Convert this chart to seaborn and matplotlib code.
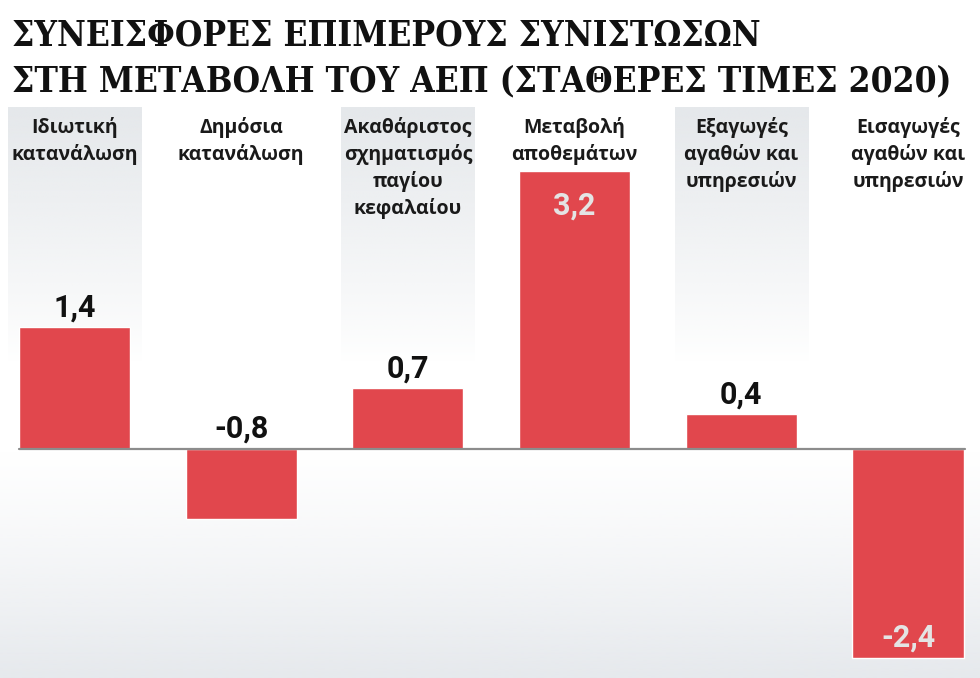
import numpy as np
import pandas as pd
import matplotlib
matplotlib.use("Agg")
import matplotlib.pyplot as plt
import seaborn as sns

# ---- data ----
categories = ["Ιδιωτική\nκατανάλωση", "Δημόσια\nκατανάλωση",
              "Ακαθάριστος\nσχηματισμός\nπαγίου\nκεφαλαίου",
              "Μεταβολή\nαποθεμάτων", "Εξαγωγές\nαγαθών και\nυπηρεσιών",
              "Εισαγωγές\nαγαθών και\nυπηρεσιών"]
values = [1.4, -0.8, 0.7, 3.2, 0.4, -2.4]
value_labels = ["1,4", "-0,8", "0,7", "3,2", "0,4", "-2,4"]
label_inside = [False, False, False, True, False, True]
shaded_columns = [0, 2, 4]
title_lines = ["ΣΥΝΕΙΣΦΟΡΕΣ ΕΠΙΜΕΡΟΥΣ ΣΥΝΙΣΤΩΣΩΝ",
               "ΣΤΗ ΜΕΤΑΒΟΛΗ ΤΟΥ ΑΕΠ (ΣΤΑΘΕΡΕΣ ΤΙΜΕΣ 2020)"]

sns.set_theme(style="white")
plt.rcParams["font.family"] = ["Open Sans", "DejaVu Sans"]

W, H = 980, 678
fig = plt.figure(figsize=(W / 100, H / 100), dpi=100)
ax = fig.add_axes([0, 0, 1, 1])

BAR = "#E1474D"
PX_X = 166.7   # px per category
X0 = 74.5      # px of first category centre
PX_Y = 87.0    # px per unit
Y0 = 449.0     # px of baseline

xlim = (-X0 / PX_X, (W - X0) / PX_X)
ylim = (-(H - Y0) / PX_Y, Y0 / PX_Y)

def ydat(py):
    return (Y0 - py) / PX_Y

# background shaded column strips (gradient fading downwards)
strip_top = ydat(107)
n = 256
yy = np.linspace(strip_top, 0, n)
alpha = np.clip((yy - 1.0) / (strip_top - 1.0), 0, 1) ** 0.9
strip_rgba = np.zeros((n, 1, 4))
strip_rgba[..., 0] = 229 / 255
strip_rgba[..., 1] = 232 / 255
strip_rgba[..., 2] = 235 / 255
strip_rgba[:, 0, 3] = alpha
for i in shaded_columns:
    ax.imshow(strip_rgba, extent=[i - 0.4, i + 0.4, 0, strip_top],
              aspect="auto", origin="upper", zorder=0, interpolation="bilinear")

# bottom gradient below baseline
yy2 = np.linspace(0, ylim[0], n)
a2 = np.clip(yy2 / ylim[0], 0, 1) ** 1.2
bot_rgba = np.zeros((n, 1, 4))
bot_rgba[..., 0] = 230 / 255
bot_rgba[..., 1] = 233 / 255
bot_rgba[..., 2] = 237 / 255
bot_rgba[:, 0, 3] = a2
ax.imshow(bot_rgba, extent=[xlim[0], xlim[1], ylim[0], 0],
          aspect="auto", origin="upper", zorder=0, interpolation="bilinear")

df = pd.DataFrame({"cat": categories, "val": values})
sns.barplot(data=df, x="cat", y="val", color=BAR, saturation=1,
            width=0.667, ax=ax, zorder=2)

ax.axhline(0, xmin=19 / W, xmax=965 / W, color="#8c8c8c", lw=1.6, zorder=3)

ax.set_xlim(*xlim)
ax.set_ylim(*ylim)
ax.axis("off")

# category labels
for i, lab in enumerate(categories):
    for k, line in enumerate(lab.split("\n")):
        ax.text(i, ydat(133 + 27 * k), line, ha="center", va="baseline",
                fontsize=14, fontweight="bold", color="#1a1a1a", zorder=4)

# value labels
vfont = dict(fontsize=22, fontweight="bold", family=["Roboto", "DejaVu Sans"], zorder=4)
for i, (v, s, ins) in enumerate(zip(values, value_labels, label_inside)):
    if ins:
        if v > 0:
            ax.annotate(s, (i, v), xytext=(0, -20 * 0.72), textcoords="offset points",
                        ha="center", va="top", color="#e4e4e4", **vfont)
        else:
            ax.annotate(s, (i, v), xytext=(0, 11 * 0.72), textcoords="offset points",
                        ha="center", va="baseline", color="#e4e4e4", **vfont)
    else:
        base = max(v, 0)
        ax.annotate(s, (i, base), xytext=(0, 11 * 0.72), textcoords="offset points",
                    ha="center", va="baseline", color="#111111", **vfont)

# title
for k, line in enumerate(title_lines):
    fig.text(12 / W, 1 - (45 + 46 * k) / H, line, ha="left", va="baseline",
             fontsize=25.3, fontweight="bold", fontstretch="condensed",
             family=["DejaVu Serif", "Liberation Serif"], color="#111111")

fig.savefig("out.png", dpi=100, facecolor="white")
